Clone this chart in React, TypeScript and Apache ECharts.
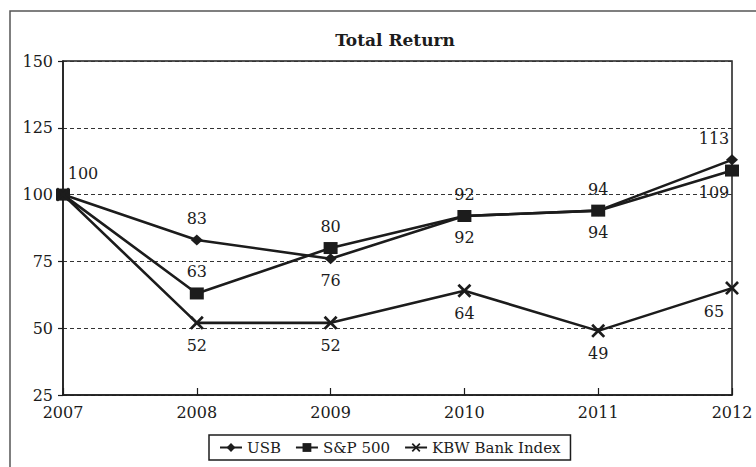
import React, { useEffect, useRef } from "react";
import * as echarts from "echarts";

const years = ["2007", "2008", "2009", "2010", "2011", "2012"];
const usb = [100, 83, 76, 92, 94, 113];
const sp500 = [100, 63, 80, 92, 94, 109];
const kbw = [100, 52, 52, 64, 49, 65];
const yTicks = { min: 25, max: 150, interval: 25 };

// label placement (style config, not data)
const usbLabelPos = ["top", "top", "bottom", "top", "top", "top"];
const spLabelPos = [null, "top", "top", "bottom", "bottom", "bottom"];
const kbwLabelPos = [null, "bottom", "bottom", "bottom", "bottom", "bottom"];

const FONT = "DejaVu Serif";
const INK = "#1c1c1c";
const CROSS =
  "path://M0,1.4 L1.4,0 L5,3.6 L8.6,0 L10,1.4 L6.4,5 L10,8.6 L8.6,10 L5,6.4 L1.4,10 L0,8.6 L3.6,5 Z";

function buildData(values: number[], pos: (string | null)[]) {
  return values.map((v, i) => {
    const p = pos[i];
    if (!p) return { value: v, label: { show: false } };
    let offset: number[] = [0, 0];
    if (i === 0) offset = [20, 0];
    if (i === values.length - 1) offset = [-18, 0];
    return {
      value: v,
      label: { show: true, position: p, distance: 8, offset },
    };
  });
}

export default function App() {
  const ref = useRef<HTMLDivElement>(null);
  useEffect(() => {
    if (!ref.current) return;
    const chart = echarts.init(ref.current, null, { renderer: "svg" });
    const labelStyle = {
      fontFamily: FONT,
      fontSize: 16,
      color: INK,
    };
    const mkSeries = (
      name: string,
      values: number[],
      pos: (string | null)[],
      symbol: string,
      symbolSize: number | number[],
      z: number
    ) => ({
      name,
      type: "line",
      data: buildData(values, pos),
      symbol,
      symbolSize,
      showAllSymbol: true,
      z,
      lineStyle: { color: INK, width: 2.6 },
      itemStyle: { color: INK, borderColor: INK, borderWidth: 0 },
      label: { ...labelStyle },
      emphasis: { disabled: true },
    });
    chart.setOption({
      animation: false,
      backgroundColor: "#ffffff",
      title: {
        text: "Total Return",
        left: 390,
        top: 26,
        textAlign: "center",
        textStyle: {
          fontFamily: FONT,
          fontSize: 17,
          fontWeight: "bold",
          color: INK,
        },
      },
      graphic: [
        {
          type: "rect",
          shape: { x: 10, y: 11, width: 800, height: 500 },
          style: { fill: "none", stroke: "#555", lineWidth: 1.5 },
          z: -1,
          silent: true,
        },
      ],
      grid: {
        left: 63,
        right: 24,
        top: 61,
        bottom: 72,
        show: true,
        borderColor: INK,
        borderWidth: 1.5,
        backgroundColor: "transparent",
      },
      legend: {
        left: 209,
        top: 435,
        padding: [5, 10, 5, 10],
        borderColor: INK,
        borderWidth: 1.5,
        itemWidth: 22,
        itemHeight: 11,
        itemGap: 14,
        textStyle: { fontFamily: FONT, fontSize: 15, color: INK },
        data: ["USB", "S&P 500", "KBW Bank Index"],
      },
      xAxis: {
        type: "category",
        data: years,
        boundaryGap: false,
        axisLine: { lineStyle: { color: INK, width: 1.5 } },
        axisTick: { inside: true, length: 7, lineStyle: { color: INK, width: 1.2 } },
        axisLabel: {
          fontFamily: FONT,
          fontSize: 16,
          color: INK,
          margin: 9,
          showMinLabel: true,
          showMaxLabel: true,
        },
        splitLine: { show: false },
      },
      yAxis: {
        type: "value",
        min: yTicks.min,
        max: yTicks.max,
        interval: yTicks.interval,
        axisLine: { show: true, lineStyle: { color: INK, width: 1.5 } },
        axisTick: { show: true, length: 5, lineStyle: { color: INK, width: 1.2 } },
        axisLabel: { fontFamily: FONT, fontSize: 16, color: INK, margin: 10 },
        splitLine: {
          show: true,
          lineStyle: { color: "#333", width: 1, type: [4, 3] },
        },
      },
      series: [
        mkSeries("USB", usb, usbLabelPos, "diamond", [12, 11], 3),
        mkSeries("S&P 500", sp500, spLabelPos, "rect", [14, 12], 4),
        mkSeries("KBW Bank Index", kbw, kbwLabelPos, CROSS, 14, 5),
      ],
    });
    return () => chart.dispose();
  }, []);
  return (
    <div
      ref={ref}
      style={{ position: "absolute", left: 0, top: 0, width: 756, height: 467 }}
    />
  );
}
